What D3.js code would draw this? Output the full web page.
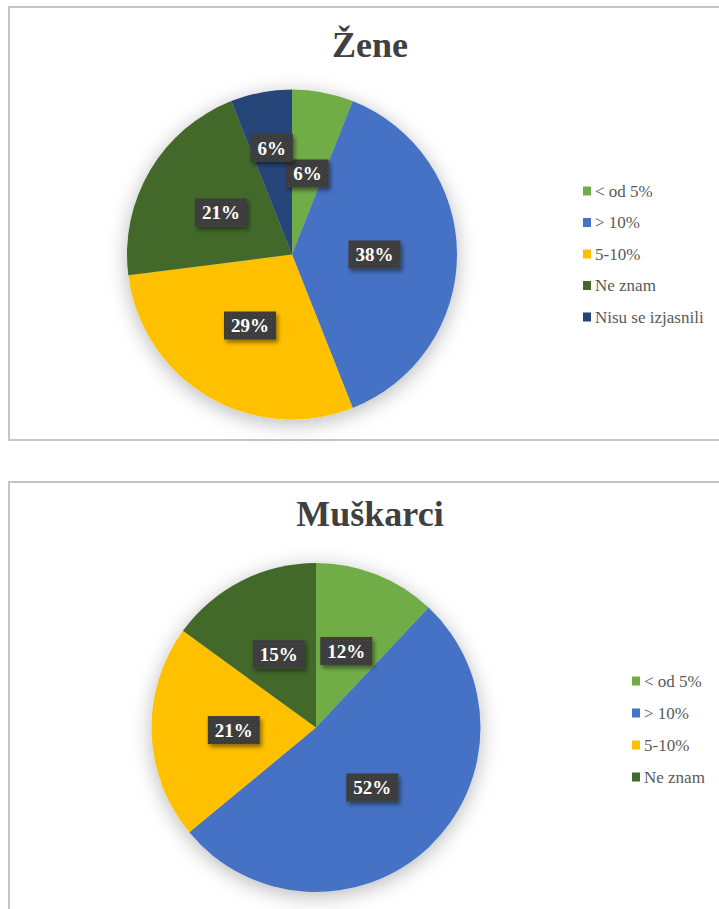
<!DOCTYPE html>
<html>
<head>
<meta charset="utf-8">
<script src="https://cdn.jsdelivr.net/npm/d3@7"></script>
<style>
  body { margin: 0; background: #fff; }
  svg { display: block; }
</style>
</head>
<body>
<div id="chart"></div>
<script>
// categories and values
const categories = ["< od 5%", "> 10%", "5-10%", "Ne znam", "Nisu se izjasnili"];
const colors = ["#70AD47", "#4472C4", "#FFC000", "#43682B", "#264478"];
const zeneValues = [6, 38, 29, 21, 6];
const muskarciCategories = ["< od 5%", "> 10%", "5-10%", "Ne znam"];
const muskarciValues = [12, 52, 21, 15];

const W = 719, H = 909;
const serif = "'Liberation Serif', 'Times New Roman', serif";

const svg = d3.select("#chart").append("svg")
  .attr("width", W)
  .attr("height", H);

const defs = svg.append("defs");

// soft shadow under the pies
const pieShadow = defs.append("filter")
  .attr("id", "pie-shadow")
  .attr("x", "-30%").attr("y", "-30%")
  .attr("width", "160%").attr("height", "160%");
pieShadow.append("feDropShadow")
  .attr("dx", 0).attr("dy", 4)
  .attr("stdDeviation", 10)
  .attr("flood-color", "#000")
  .attr("flood-opacity", 0.28);

// shadow under the data label boxes
const labelShadow = defs.append("filter")
  .attr("id", "label-shadow")
  .attr("x", "-30%").attr("y", "-40%")
  .attr("width", "160%").attr("height", "180%");
labelShadow.append("feDropShadow")
  .attr("dx", 2).attr("dy", 3)
  .attr("stdDeviation", 2)
  .attr("flood-color", "#000")
  .attr("flood-opacity", 0.45);

// dotted texture of the label boxes
const dots = defs.append("pattern")
  .attr("id", "dots")
  .attr("width", 4).attr("height", 4)
  .attr("patternUnits", "userSpaceOnUse");
dots.append("rect").attr("width", 4).attr("height", 4).attr("fill", "#3b3b3b");
dots.append("rect").attr("x", 1).attr("y", 1).attr("width", 1).attr("height", 1).attr("fill", "#555");
dots.append("rect").attr("x", 3).attr("y", 3).attr("width", 1).attr("height", 1).attr("fill", "#4a4a4a");

function drawPie(opts) {
  const { title, cats, values, box, cx, cy, r, titleY, legendX, legendY, legendStep } = opts;

  // chart frame
  svg.append("rect")
    .attr("x", box.x).attr("y", box.y)
    .attr("width", box.w).attr("height", box.h)
    .attr("fill", "#fff")
    .attr("stroke", "#c4c4c4")
    .attr("stroke-width", 2);

  svg.append("text")
    .attr("x", box.x + box.w / 2 - 1)
    .attr("y", titleY)
    .attr("text-anchor", "middle")
    .attr("font-family", serif)
    .attr("font-weight", "bold")
    .attr("font-size", "36px")
    .attr("fill", "#404040")
    .text(title);

  const data = values.map((v, i) => ({ cat: cats[i], value: v, color: colors[i] }));
  const pie = d3.pie().sort(null).value(d => d.value);
  const arcs = pie(data);
  const arc = d3.arc().innerRadius(0).outerRadius(r);

  const g = svg.append("g").attr("transform", `translate(${cx},${cy})`);

  g.append("g")
    .attr("filter", "url(#pie-shadow)")
    .selectAll("path")
    .data(arcs)
    .join("path")
    .attr("d", arc)
    .attr("fill", d => d.data.color);

  // data labels: at half radius, pushed outward when they collide
  const placed = [];
  const fmt = d => Math.round(d.data.value) + "%";
  arcs.forEach(d => {
    const lg = g.append("g");
    const t = lg.append("text")
      .attr("text-anchor", "middle")
      .attr("dy", "0.35em")
      .attr("font-family", serif)
      .attr("font-weight", "bold")
      .attr("font-size", "19px")
      .attr("fill", "#fff")
      .text(fmt(d));
    const bw = t.node().getComputedTextLength() + 14;
    const bh = 28;
    const mid = (d.startAngle + d.endAngle) / 2;
    let rr = r / 2;
    let x, y;
    const hits = () => placed.some(p =>
      Math.abs(p.x - x) < (p.w + bw) / 2 - 3 && Math.abs(p.y - y) < (p.h + bh) / 2 - 3);
    do {
      x = Math.sin(mid) * rr;
      y = -Math.cos(mid) * rr;
      rr += 1;
    } while (hits() && rr < r);
    placed.push({ x, y, w: bw, h: bh });

    lg.attr("transform", `translate(${x},${y})`);
    lg.insert("rect", "text")
      .attr("x", -bw / 2).attr("y", -bh / 2)
      .attr("width", bw).attr("height", bh)
      .attr("fill", "url(#dots)")
      .attr("filter", "url(#label-shadow)");
  });

  // legend
  const leg = svg.append("g").selectAll("g")
    .data(data)
    .join("g")
    .attr("transform", (d, i) => `translate(${legendX},${legendY + i * legendStep})`);
  leg.append("rect")
    .attr("x", 0).attr("y", -4.5)
    .attr("width", 8).attr("height", 9)
    .attr("fill", d => d.color);
  leg.append("text")
    .attr("x", 12)
    .attr("dy", "0.35em")
    .attr("font-family", serif)
    .attr("font-size", "17px")
    .attr("fill", "#595959")
    .text(d => d.cat);
}

drawPie({
  title: "Žene",
  cats: categories,
  values: zeneValues,
  box: { x: 9, y: 7, w: 724, h: 433 },
  cx: 292, cy: 254.5, r: 165,
  titleY: 57,
  legendX: 583, legendY: 191, legendStep: 31.5
});

drawPie({
  title: "Muškarci",
  cats: muskarciCategories,
  values: muskarciValues,
  box: { x: 9, y: 482, w: 724, h: 440 },
  cx: 316, cy: 727.5, r: 164.5,
  titleY: 526,
  legendX: 632, legendY: 681, legendStep: 32
});
</script>
</body>
</html>
